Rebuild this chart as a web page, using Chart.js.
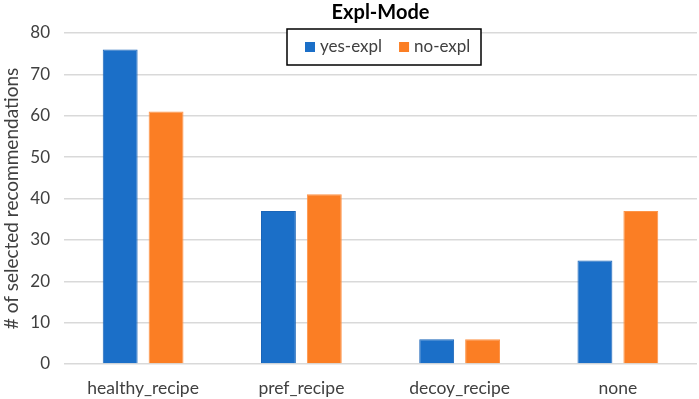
<!DOCTYPE html>
<html>
<head>
<meta charset="utf-8">
<script src="https://cdn.jsdelivr.net/npm/chart.js@4/dist/chart.umd.min.js"></script>
<style>
html,body{margin:0;padding:0;background:#fff;}
#wrap{position:relative;width:699px;height:399px;}
</style>
</head>
<body>
<div id="wrap"><canvas id="c" width="699" height="399"></canvas></div>
<script>
const categories = ["healthy_recipe", "pref_recipe", "decoy_recipe", "none"];
const yesExpl = [76, 37, 6, 25];
const noExpl = [61, 41, 6, 37];
const seriesNames = ["yes-expl", "no-expl"];
const chartTitle = "Expl-Mode";
const yAxisTitle = "# of selected recommendations";

const FONT = "Lato, 'Open Sans', sans-serif";
const BLUE = "#1B6FC8";
const ORANGE = "#FB7E24";
const TXT = "#404040";

const boxLegend = {
  id: 'boxLegend',
  afterDraw(chart) {
    const ctx = chart.ctx;
    const x0 = 287, y0 = 29, w = 194, h = 36;
    ctx.save();
    ctx.fillStyle = '#fff';
    ctx.fillRect(x0, y0, w, h);
    ctx.strokeStyle = '#000';
    ctx.lineWidth = 1.5;
    ctx.strokeRect(x0, y0, w, h);
    ctx.font = "17px " + FONT;
    ctx.textBaseline = 'middle';
    let x = x0 + 18;
    const cy = y0 + h / 2;
    chart.data.datasets.forEach((ds) => {
      ctx.fillStyle = ds.backgroundColor;
      ctx.fillRect(x, cy - 5, 10, 10);
      ctx.fillStyle = TXT;
      ctx.fillText(ds.label, x + 15, cy);
      x += 15 + ctx.measureText(ds.label).width + 17;
    });
    ctx.restore();
  }
};

new Chart(document.getElementById('c'), {
  type: 'bar',
  data: {
    labels: categories,
    datasets: [
      { label: seriesNames[0], data: yesExpl, backgroundColor: BLUE, borderColor: '#1a65b8', borderWidth: 1 },
      { label: seriesNames[1], data: noExpl, backgroundColor: ORANGE, borderColor: '#fd9448', borderWidth: 1 }
    ]
  },
  options: {
    responsive: false,
    animation: false,
    layout: { padding: { left: 0, right: 2, top: 0, bottom: 0 } },
    categoryPercentage: 0.58,
    barPercentage: 0.76,
    plugins: {
      legend: { display: false },
      tooltip: { enabled: false },
      title: {
        display: true,
        fullSize: false,
        text: chartTitle,
        color: '#000',
        font: { family: FONT, size: 20, weight: 'bold' },
        padding: { top: 1, bottom: 8 }
      }
    },
    scales: {
      x: {
        grid: { display: false },
        border: { display: false },
        ticks: { color: TXT, font: { family: FONT, size: 17.5 }, padding: 6 },
        afterFit(s) { s.height = 35; }
      },
      y: {
        min: 0, max: 80,
        ticks: { stepSize: 10, color: TXT, font: { family: FONT, size: 17 }, padding: 14 },
        grid: { color: '#d9d9d9', lineWidth: 1.5, drawTicks: false },
        border: { display: false },
        title: { display: true, text: yAxisTitle, color: TXT, font: { family: FONT, size: 19 }, padding: { top: 0, bottom: 2 } },
        afterFit(s) { s.width = 64; }
      }
    }
  },
  plugins: [boxLegend]
});
</script>
</body>
</html>
